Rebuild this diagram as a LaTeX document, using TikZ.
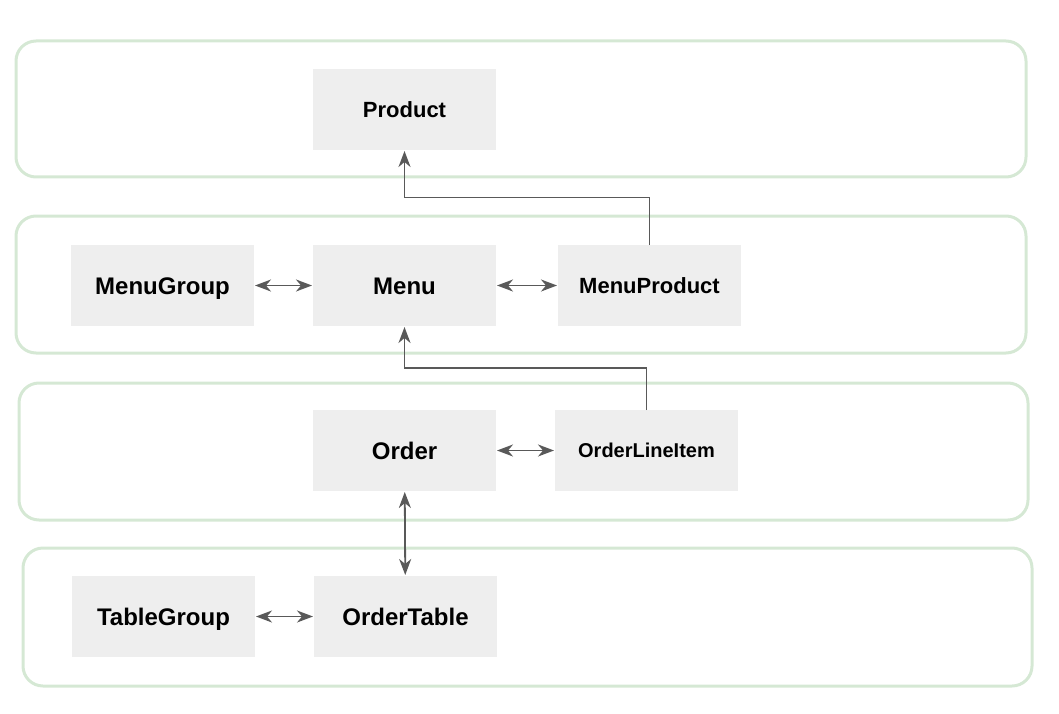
\documentclass[tikz,border=0pt]{standalone}
\usepackage{fontspec}
\setmainfont{Liberation Sans}
\usetikzlibrary{arrows.meta,positioning,calc}
\definecolor{lanegreen}{HTML}{D5E8D4}
\definecolor{boxgray}{HTML}{EEEEEE}
\definecolor{linkgray}{HTML}{595959}

\begin{document}
\begin{tikzpicture}[x=1pt,y=-1pt,font=\bfseries,
  lane/.style={draw=lanegreen,line width=3pt,rounded corners=20pt},
  box/.style={fill=boxgray,minimum width=183pt,minimum height=81pt,inner sep=0pt,outer sep=0pt,text height=17.2pt,text depth=0pt,font=\bfseries\fontsize{24}{28}\selectfont},
  small/.style={text height=15.8pt,font=\bfseries\fontsize{22}{26}\selectfont},
  tiny/.style={text height=14.3pt,font=\bfseries\fontsize{20}{24}\selectfont},
  link/.style={draw=linkgray,line width=1.8pt,shorten >=1pt,arrows={-Stealth[length=16pt,width=12pt,inset=5pt]}},
  both/.style={link,shorten <=1pt,arrows={Stealth[length=16pt,width=12pt,inset=5pt]-Stealth[length=16pt,width=12pt,inset=5pt]}}]
\useasboundingbox (0,0) rectangle (1059,714);
% lanes
\draw[lane] (16,41) rectangle (1026,177);
\draw[lane] (16,216) rectangle (1026,353);
\draw[lane] (19,383) rectangle (1028,520);
\draw[lane] (23,548) rectangle (1032,686);
% boxes
\node[box,small] (product) at (404.5,109.5) {Product};
\node[box,below=95pt of product] (menu) {Menu};
\node[box,left=59pt of menu] (menugroup) {MenuGroup};
\node[box,small,right=62pt of menu] (menuproduct) {MenuProduct};
\node[box,below=84pt of menu] (order) {Order};
\node[box,tiny,right=59pt of order] (orderlineitem) {OrderLineItem};
\node[box,below=85pt of order,xshift=1pt] (ordertable) {OrderTable};
\node[box,left=59pt of ordertable] (tablegroup) {TableGroup};
% links
\draw[both] (menugroup) -- (menu);
\draw[both] (menu) -- (menuproduct);
\draw[both] (order) -- (orderlineitem);
\draw[both] (order) -- (ordertable);
\draw[both] (tablegroup) -- (ordertable);
\draw[link] (menuproduct.north) |- ($(product.south)!0.5!(menu.north)$) -- (product.south);
\draw[link] (orderlineitem.north) |- ($(menu.south)!0.5!(order.north)$) -- (menu.south);
\end{tikzpicture}
\end{document}
